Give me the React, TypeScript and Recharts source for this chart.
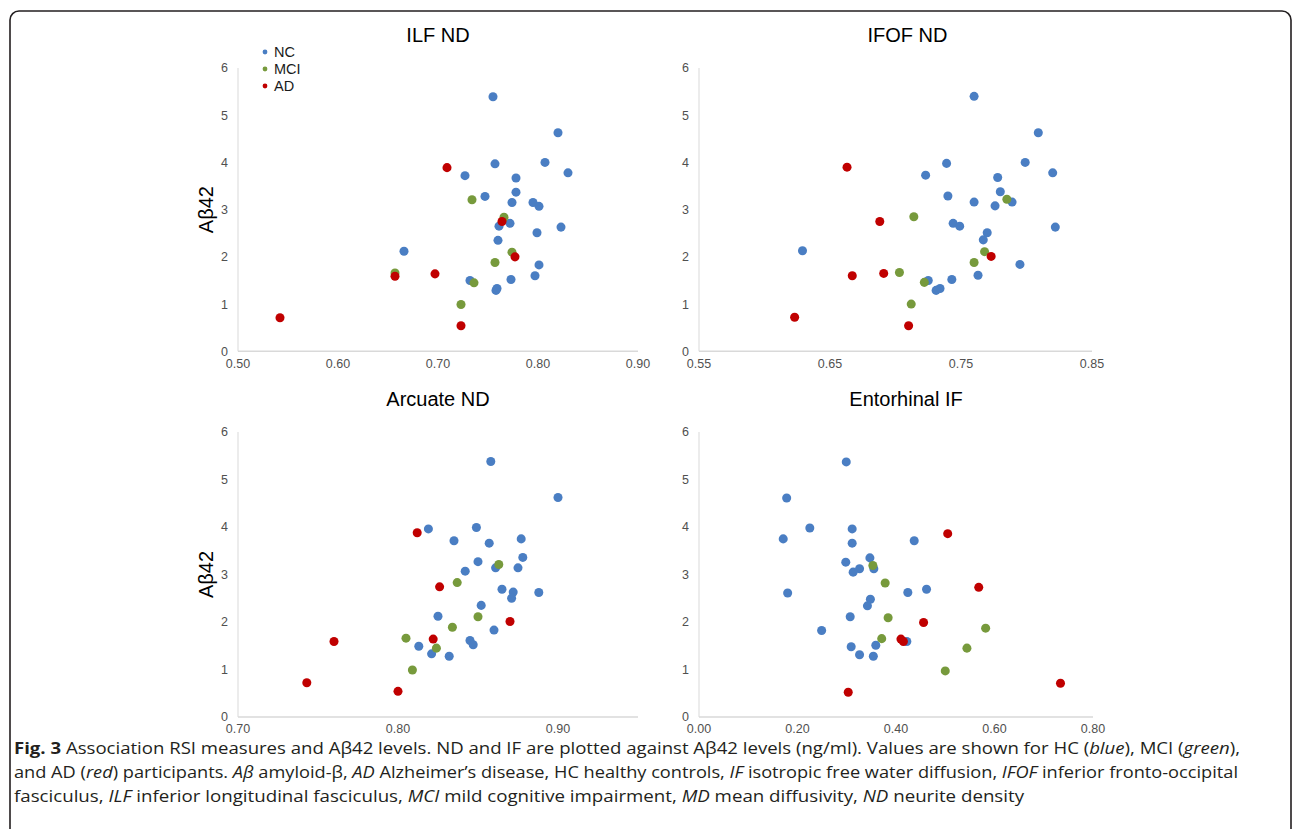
import React from 'react';
import { ScatterChart, Scatter, XAxis, YAxis, ZAxis, Legend } from 'recharts';

type P = [number, number];

const FONT = "'Liberation Sans', Arial, sans-serif";
const CAP_FONT = "'Open Sans', sans-serif";

const groupNames = ['NC', 'MCI', 'AD'];
const groupColors = ['#4A7EC3', '#779A3C', '#C00000'];
const yTicks = [0, 1, 2, 3, 4, 5, 6];

// ILF ND
const ilfNC: P[] = [
  [0.755, 5.39], [0.820, 4.63], [0.757, 3.97], [0.807, 4.00], [0.727, 3.72], [0.830, 3.78],
  [0.778, 3.67], [0.778, 3.37], [0.747, 3.28], [0.774, 3.15], [0.795, 3.15], [0.801, 3.07],
  [0.772, 2.71], [0.761, 2.65], [0.823, 2.63], [0.799, 2.51], [0.760, 2.35], [0.666, 2.12],
  [0.801, 1.83], [0.797, 1.60], [0.773, 1.52], [0.732, 1.50], [0.759, 1.33], [0.758, 1.29],
];
const ilfMCI: P[] = [[0.734, 3.21], [0.766, 2.84], [0.774, 2.10], [0.757, 1.88], [0.657, 1.66], [0.736, 1.45], [0.723, 0.99]];
const ilfAD: P[] = [[0.709, 3.89], [0.764, 2.75], [0.777, 2.00], [0.697, 1.64], [0.657, 1.59], [0.723, 0.54], [0.542, 0.71]];

// IFOF ND
const ifofNC: P[] = [
  [0.760, 5.40], [0.809, 4.63], [0.739, 3.98], [0.799, 4.00], [0.723, 3.73], [0.820, 3.78],
  [0.778, 3.68], [0.780, 3.38], [0.740, 3.29], [0.760, 3.16], [0.789, 3.16], [0.776, 3.08],
  [0.744, 2.71], [0.749, 2.65], [0.822, 2.63], [0.770, 2.51], [0.767, 2.36], [0.629, 2.13],
  [0.795, 1.84], [0.763, 1.61], [0.743, 1.52], [0.725, 1.50], [0.734, 1.33], [0.731, 1.29],
];
const ifofMCI: P[] = [[0.785, 3.22], [0.714, 2.85], [0.768, 2.11], [0.760, 1.88], [0.703, 1.67], [0.722, 1.46], [0.712, 1.00]];
const ifofAD: P[] = [[0.663, 3.90], [0.688, 2.75], [0.773, 2.01], [0.691, 1.65], [0.667, 1.60], [0.710, 0.54], [0.623, 0.72]];

// Arcuate ND
const arcNC: P[] = [
  [0.858, 5.38], [0.900, 4.62], [0.819, 3.96], [0.849, 3.99], [0.835, 3.71], [0.857, 3.66],
  [0.877, 3.75], [0.878, 3.36], [0.850, 3.27], [0.861, 3.14], [0.875, 3.14], [0.842, 3.07],
  [0.865, 2.69], [0.872, 2.63], [0.888, 2.62], [0.871, 2.50], [0.852, 2.35], [0.825, 2.12],
  [0.860, 1.83], [0.845, 1.61], [0.847, 1.52], [0.813, 1.49], [0.821, 1.33], [0.832, 1.28],
];
const arcMCI: P[] = [[0.863, 3.21], [0.837, 2.83], [0.850, 2.11], [0.834, 1.89], [0.805, 1.66], [0.824, 1.45], [0.809, 0.99]];
const arcAD: P[] = [[0.812, 3.88], [0.826, 2.74], [0.870, 2.01], [0.822, 1.64], [0.760, 1.59], [0.800, 0.54], [0.743, 0.72]];

// Entorhinal IF
const entNC: P[] = [
  [0.299, 5.37], [0.178, 4.61], [0.225, 3.98], [0.311, 3.96], [0.171, 3.75], [0.311, 3.66],
  [0.437, 3.71], [0.347, 3.35], [0.298, 3.26], [0.326, 3.12], [0.355, 3.12], [0.313, 3.05],
  [0.180, 2.61], [0.424, 2.62], [0.462, 2.69], [0.348, 2.48], [0.342, 2.34], [0.307, 2.11],
  [0.249, 1.82], [0.422, 1.59], [0.309, 1.48], [0.359, 1.51], [0.326, 1.31], [0.354, 1.28],
];
const entMCI: P[] = [[0.353, 3.19], [0.378, 2.82], [0.384, 2.09], [0.582, 1.87], [0.371, 1.65], [0.544, 1.45], [0.500, 0.97]];
const entAD: P[] = [[0.505, 3.86], [0.568, 2.73], [0.456, 1.99], [0.410, 1.64], [0.415, 1.59], [0.303, 0.52], [0.734, 0.71]];

const ilfTicks = [0.5, 0.6, 0.7, 0.8, 0.9];
const ifofTicks = [0.55, 0.65, 0.75, 0.85];
const arcTicks = [0.7, 0.8, 0.9];
const entTicks = [0, 0.2, 0.4, 0.6, 0.8];

const ilfDomain: [number, number] = [0.5, 0.9];
const ifofDomain: [number, number] = [0.55, 0.85];
const arcDomain: [number, number] = [0.7, 0.95];
const entDomain: [number, number] = [0, 0.8];

const YW = 64;
const MT = 50;
const MR = 14;
const XH = 30;

const renderLegend = (props: any) => {
  const payload = [...(props.payload || [])].sort(
    (a: any, b: any) => groupNames.indexOf(a.value) - groupNames.indexOf(b.value)
  );
  return (
    <div>
      {payload.map((e: any) => (
        <div
          key={e.value}
          style={{ height: 16.7, display: 'flex', alignItems: 'center', fontFamily: FONT, fontSize: 14.5, color: '#1a1a1a' }}
        >
          <svg width={6} height={6} style={{ marginRight: 6 }}>
            <circle cx={3} cy={3} r={2.4} fill={e.color} />
          </svg>
          <span>{e.value}</span>
        </div>
      ))}
    </div>
  );
};

type PanelProps = {
  left: number;
  top: number;
  w: number;
  h: number;
  title: string;
  titleDx?: number;
  domain: [number, number];
  ticks: number[];
  groups: P[][];
  yLabel?: boolean;
  legend?: boolean;
  xTickMargin?: number;
};

function Panel({ left, top, w, h, title, titleDx = 0, domain, ticks, groups, yLabel, legend, xTickMargin = 2 }: PanelProps) {
  const cw = YW + w + MR;
  const ch = MT + h + XH;
  const tickStyle = { fill: '#505050', fontSize: 12.5, fontFamily: FONT };
  return (
    <>
      <div
        style={{
          position: 'absolute',
          left: left + w / 2 - 200 + titleDx,
          top: top - 44.7,
          width: 400,
          textAlign: 'center',
          fontFamily: FONT,
          fontSize: 20,
          lineHeight: '24px',
          color: '#000',
        }}
      >
        {title}
      </div>
      <div style={{ position: 'absolute', left: left - YW, top: top - MT, width: cw, height: ch }}>
        <ScatterChart width={cw} height={ch} margin={{ top: MT, right: MR, bottom: 0, left: 0 }}>
          <XAxis
            type="number"
            dataKey="x"
            domain={domain}
            ticks={ticks}
            interval={0}
            allowDataOverflow
            tickLine={false}
            tickMargin={xTickMargin}
            axisLine={{ stroke: '#D9D9D9', strokeWidth: 1.5 }}
            tick={tickStyle}
            tickFormatter={(v: number) => Number(v).toFixed(2)}
            height={XH}
          />
          <YAxis
            type="number"
            dataKey="y"
            domain={[0, 6]}
            ticks={yTicks}
            interval={0}
            width={YW}
            tickLine={false}
            tickMargin={4}
            axisLine={{ stroke: '#D9D9D9' }}
            tick={tickStyle}
            label={
              yLabel
                ? { value: 'Aβ42', angle: -90, position: 'center', style: { fontSize: 20, fill: '#000', fontFamily: FONT } }
                : undefined
            }
          />
          <ZAxis range={[25, 25]} />
          {legend && (
            <Legend
              layout="vertical"
              align="center"
              verticalAlign="middle"
              itemSorter={null as any}
              wrapperStyle={{ left: 88, top: 26.3, width: 'auto' }}
              content={renderLegend}
            />
          )}
          {groups.map((g, i) => (
            <Scatter
              key={groupNames[i]}
              name={groupNames[i]}
              data={g.map(([x, y]) => ({ x, y }))}
              fill={groupColors[i]}
              isAnimationActive={false}
            />
          ))}
        </ScatterChart>
      </div>
    </>
  );
}

export default function App() {
  const capStyle = { fontFamily: CAP_FONT, fontSize: 16, fill: '#231f20' };
  return (
    <div style={{ position: 'absolute', left: 0, top: 0, width: 1292, height: 829, background: '#fff', overflow: 'hidden' }}>
      <svg width={1292} height={829} style={{ position: 'absolute', left: 0, top: 0 }}>
        <rect x={10} y={11} width={1281} height={840} rx={9} fill="none" stroke="#231f20" strokeWidth={1.6} />
        <text x={14} y={754} textLength={1226} lengthAdjust="spacingAndGlyphs" style={capStyle}>
          <tspan fontWeight="bold">Fig. 3</tspan>
          {' Association RSI measures and Aβ42 levels. ND and IF are plotted against Aβ42 levels (ng/ml). Values are shown for HC ('}
          <tspan fontStyle="italic">blue</tspan>
          {'), MCI ('}
          <tspan fontStyle="italic">green</tspan>
          {'),'}
        </text>
        <text x={14} y={778} textLength={1224} lengthAdjust="spacingAndGlyphs" style={capStyle}>
          {'and AD ('}
          <tspan fontStyle="italic">red</tspan>
          {') participants. '}
          <tspan fontStyle="italic">Aβ</tspan>
          {' amyloid-β, '}
          <tspan fontStyle="italic">AD</tspan>
          {' Alzheimer’s disease, HC healthy controls, '}
          <tspan fontStyle="italic">IF</tspan>
          {' isotropic free water diffusion, '}
          <tspan fontStyle="italic">IFOF</tspan>
          {' inferior fronto-occipital'}
        </text>
        <text x={14} y={802} textLength={1010} lengthAdjust="spacingAndGlyphs" style={capStyle}>
          {'fasciculus, '}
          <tspan fontStyle="italic">ILF</tspan>
          {' inferior longitudinal fasciculus, '}
          <tspan fontStyle="italic">MCI</tspan>
          {' mild cognitive impairment, '}
          <tspan fontStyle="italic">MD</tspan>
          {' mean diffusivity, '}
          <tspan fontStyle="italic">ND</tspan>
          {' neurite density'}
        </text>
      </svg>
      <Panel left={238} top={67.7} w={400} h={283.3} title="ILF ND" domain={ilfDomain} ticks={ilfTicks} groups={[ilfNC, ilfMCI, ilfAD]} yLabel legend />
      <Panel left={699} top={67.7} w={393} h={283.3} title="IFOF ND" titleDx={12} domain={ifofDomain} ticks={ifofTicks} groups={[ifofNC, ifofMCI, ifofAD]} />
      <Panel left={238} top={431.7} w={400} h={285} title="Arcuate ND" domain={arcDomain} ticks={arcTicks} groups={[arcNC, arcMCI, arcAD]} yLabel xTickMargin={1} />
      <Panel left={699} top={431.7} w={394} h={285} title="Entorhinal IF" titleDx={10} domain={entDomain} ticks={entTicks} groups={[entNC, entMCI, entAD]} xTickMargin={1} />
    </div>
  );
}
